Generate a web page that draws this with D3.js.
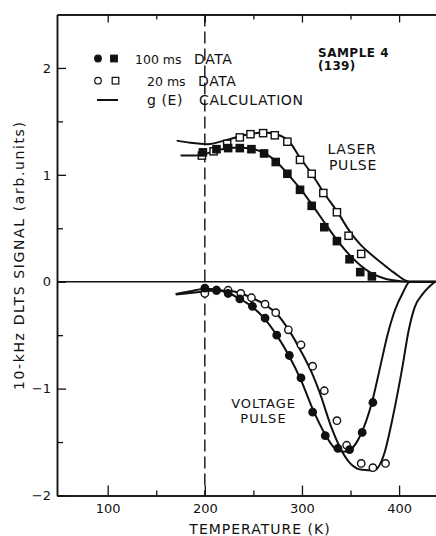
<!DOCTYPE html>
<html>
<head>
<meta charset="utf-8">
<script src="https://cdn.jsdelivr.net/npm/d3@7"></script>
<style>
  html, body { margin: 0; padding: 0; background: #fff; }
  svg { display: block; }
  text { font-family: "DejaVu Sans", sans-serif; fill: #111; }
</style>
</head>
<body>
<svg id="chart" width="436" height="536"></svg>
<script>
// ---- data ----
const xMajorTicks = [100, 200, 300, 400];
const xMinorTicks = [150, 250, 350];
const yMajorTicks = [-2, -1, 0, 1, 2];
const yMinorTicks = [-1.5, -0.5, 0.5, 1.5];

// Laser pulse data
const laserT100 = [198, 212, 224, 236, 248, 261, 273, 285, 298, 310, 323, 336, 349, 360, 372];
const laserV100 = [1.21, 1.24, 1.25, 1.25, 1.24, 1.20, 1.12, 1.01, 0.86, 0.71, 0.51, 0.38, 0.21, 0.09, 0.05];
const laserT20  = [197, 209, 223, 236, 247, 260, 272, 285, 298, 310, 322, 336, 348, 361];
const laserV20  = [1.18, 1.22, 1.29, 1.35, 1.38, 1.39, 1.37, 1.31, 1.14, 1.01, 0.83, 0.65, 0.43, 0.26];

// Voltage pulse data
const voltT100 = [200, 212, 224, 236, 249, 262, 274, 287, 299, 311, 324, 337, 349, 362, 373];
const voltV100 = [-0.06, -0.08, -0.11, -0.16, -0.23, -0.34, -0.50, -0.69, -0.90, -1.22, -1.44, -1.56, -1.57, -1.41, -1.13];
const voltT20  = [200, 212, 224, 237, 248, 262, 273, 286, 299, 311, 323, 336, 346, 361, 373, 386];
const voltV20  = [-0.11, -0.08, -0.08, -0.11, -0.15, -0.21, -0.29, -0.45, -0.59, -0.79, -1.02, -1.30, -1.53, -1.70, -1.74, -1.70];

// g(E) calculation curves
const calcLaser100T = [175, 190, 200, 215, 235, 250, 262, 275, 287, 300, 312, 325, 337, 348, 360, 372, 385, 398, 411, 440];
const calcLaser100V = [1.18, 1.18, 1.195, 1.235, 1.255, 1.24, 1.20, 1.11, 0.99, 0.85, 0.70, 0.53, 0.38, 0.26, 0.155, 0.078, 0.03, 0.008, 0, 0];
const calcLaser20T  = [171, 185, 203, 220, 240, 260, 275, 287, 298, 310, 322, 336, 350, 360, 368, 380, 394, 411, 440];
const calcLaser20V  = [1.32, 1.30, 1.287, 1.32, 1.37, 1.395, 1.375, 1.31, 1.16, 1.01, 0.84, 0.66, 0.46, 0.35, 0.28, 0.19, 0.09, 0, 0];
const calcVolt100T  = [170, 185, 200, 212, 224, 236, 248, 261, 274, 287, 299, 311, 324, 334, 343, 350, 361, 372, 380, 388, 396, 404, 411, 440];
const calcVolt100V  = [-0.115, -0.09, -0.065, -0.075, -0.105, -0.16, -0.23, -0.34, -0.50, -0.70, -0.92, -1.19, -1.43, -1.56, -1.59, -1.57, -1.42, -1.13, -0.82, -0.50, -0.26, -0.10, 0, 0];
const calcVolt20T   = [170, 185, 200, 212, 224, 236, 248, 261, 274, 287, 299, 311, 318, 331, 342, 352, 362, 374, 385, 393, 403, 410, 416, 425, 437];
const calcVolt20V   = [-0.12, -0.105, -0.09, -0.08, -0.085, -0.105, -0.15, -0.21, -0.30, -0.46, -0.65, -0.87, -1.03, -1.38, -1.60, -1.72, -1.76, -1.765, -1.60, -1.29, -0.82, -0.45, -0.24, -0.107, 0];

const zip = (a, b) => a.map((t, i) => [t, b[i]]);

// ---- layout ----
const svg = d3.select("#chart");
const plotL = 57, plotR = 436, plotT = 14.5, plotB = 495.5;
const x = d3.scaleLinear().domain([47.8, 438]).range([plotL, plotR]);
const y = d3.scaleLinear().domain([-2, 2.5]).range([plotB, plotT]);
const ink = "#111";

svg.append("defs").append("clipPath").attr("id", "plotclip")
  .append("rect").attr("x", plotL).attr("y", plotT).attr("width", plotR - plotL).attr("height", plotB - plotT);

function styleAxis(g) {
  g.selectAll(".domain").attr("stroke", ink).attr("stroke-width", 1.5);
  g.selectAll(".tick line").attr("stroke", ink).attr("stroke-width", 1.3);
  g.selectAll(".tick text").attr("font-size", 13).attr("fill", ink)
    .attr("font-family", "DejaVu Sans, sans-serif");
}

// bottom axis
svg.append("g").attr("transform", `translate(0,${plotB})`)
  .call(d3.axisBottom(x).tickValues(xMajorTicks).tickSizeInner(-10).tickSizeOuter(0).tickPadding(8).tickFormat(d3.format("d")))
  .call(styleAxis);
svg.append("g").attr("transform", `translate(0,${plotB})`)
  .call(d3.axisBottom(x).tickValues(xMinorTicks).tickSizeInner(-5).tickSizeOuter(0).tickFormat(""))
  .call(styleAxis);
// top axis
svg.append("g").attr("transform", `translate(0,${plotT})`)
  .call(d3.axisTop(x).tickValues(xMajorTicks).tickSizeInner(-8).tickSizeOuter(0).tickFormat(""))
  .call(styleAxis);
svg.append("g").attr("transform", `translate(0,${plotT})`)
  .call(d3.axisTop(x).tickValues(xMinorTicks).tickSizeInner(-5).tickSizeOuter(0).tickFormat(""))
  .call(styleAxis);
// left axis
svg.append("g").attr("transform", `translate(${plotL},0)`)
  .call(d3.axisLeft(y).tickValues(yMajorTicks).tickSizeInner(-9).tickSizeOuter(0).tickPadding(6).tickFormat(d3.format("d")))
  .call(styleAxis);
svg.append("g").attr("transform", `translate(${plotL},0)`)
  .call(d3.axisLeft(y).tickValues(yMinorTicks).tickSizeInner(-6).tickSizeOuter(0).tickFormat(""))
  .call(styleAxis);

// zero line
svg.append("line").attr("x1", plotL).attr("x2", plotR).attr("y1", y(0)).attr("y2", y(0))
  .attr("stroke", ink).attr("stroke-width", 1.5);
// dashed line at 200 K
svg.append("line").attr("x1", x(200)).attr("x2", x(200)).attr("y1", plotT).attr("y2", plotB)
  .attr("stroke", ink).attr("stroke-width", 1.4).attr("stroke-dasharray", "12,5");

// calculation curves
const line = d3.line().x(d => x(d[0])).y(d => y(d[1])).curve(d3.curveMonotoneX);
const curves = svg.append("g").attr("clip-path", "url(#plotclip)");
[[calcLaser100T, calcLaser100V], [calcLaser20T, calcLaser20V],
 [calcVolt100T, calcVolt100V], [calcVolt20T, calcVolt20V]].forEach(([t, v]) => {
  curves.append("path").datum(zip(t, v)).attr("d", line)
    .attr("fill", "none").attr("stroke", ink).attr("stroke-width", 2);
});

// markers
const r = 3.7, s = 7.2;
function squares(data, filled) {
  svg.append("g").selectAll("rect").data(data).join("rect")
    .attr("x", d => x(d[0]) - s / 2).attr("y", d => y(d[1]) - s / 2)
    .attr("width", s).attr("height", s)
    .attr("fill", filled ? ink : "#fff").attr("stroke", ink).attr("stroke-width", 1.4);
}
function circles(data, filled) {
  svg.append("g").selectAll("circle").data(data).join("circle")
    .attr("cx", d => x(d[0])).attr("cy", d => y(d[1])).attr("r", r)
    .attr("fill", filled ? ink : "#fff").attr("stroke", ink).attr("stroke-width", 1.4);
}
squares(zip(laserT20, laserV20), false);
squares(zip(laserT100, laserV100), true);
circles(zip(voltT20, voltV20), false);
circles(zip(voltT100, voltV100), true);

// legend
const lg = svg.append("g");
lg.append("circle").attr("cx", 98).attr("cy", 58.5).attr("r", 3.3).attr("fill", ink).attr("stroke", ink).attr("stroke-width", 1.2);
lg.append("rect").attr("x", 114 - 3.3).attr("y", 58.5 - 3.3).attr("width", 6.6).attr("height", 6.6).attr("fill", ink).attr("stroke", ink).attr("stroke-width", 1.2);
lg.append("circle").attr("cx", 98).attr("cy", 80.7).attr("r", 3.3).attr("fill", "#fff").attr("stroke", ink).attr("stroke-width", 1.2);
lg.append("rect").attr("x", 115.5 - 3.3).attr("y", 80.7 - 3.3).attr("width", 6.6).attr("height", 6.6).attr("fill", "#fff").attr("stroke", ink).attr("stroke-width", 1.2);
lg.append("line").attr("x1", 97).attr("x2", 118).attr("y1", 100).attr("y2", 100).attr("stroke", ink).attr("stroke-width", 2);

function label(txt, xx, yy, opts = {}) {
  const t = svg.append("text").attr("x", xx).attr("y", yy).text(txt)
    .attr("font-size", opts.size || 14)
    .attr("letter-spacing", opts.ls != null ? opts.ls : 0.6)
    .attr("text-anchor", opts.anchor || "start");
  if (opts.bold) t.attr("font-weight", "bold");
  return t;
}
label("100 ms", 135, 64, {size: 12.5, ls: 0});
label("DATA", 194, 64);
label("20 ms", 147, 86, {size: 12.5, ls: 0});
label("DATA", 198, 86);
label("g (E)", 147, 105, {ls: 0.6});
label("CALCULATION", 199, 105);

label("SAMPLE 4", 318, 57, {size: 12, bold: true, ls: 0.5});
label("(139)", 318, 69.5, {size: 12, bold: true, ls: 0.3});
label("LASER", 352, 153.5, {anchor: "middle", ls: 0.8});
label("PULSE", 353, 169.5, {anchor: "middle", ls: 0.8});
label("VOLTAGE", 263.5, 408, {anchor: "middle", size: 13, ls: 0.9});
label("PULSE", 263.5, 422.5, {anchor: "middle", size: 13, ls: 1.1});

// axis titles
label("TEMPERATURE (K)", 260, 534, {anchor: "middle", ls: 1});
svg.append("text").attr("transform", "translate(24,256) rotate(-90)")
  .attr("text-anchor", "middle").attr("font-size", 14)
  .attr("textLength", 268).attr("lengthAdjust", "spacing")
  .text("10-kHz DLTS SIGNAL (arb.units)");
</script>
</body>
</html>
